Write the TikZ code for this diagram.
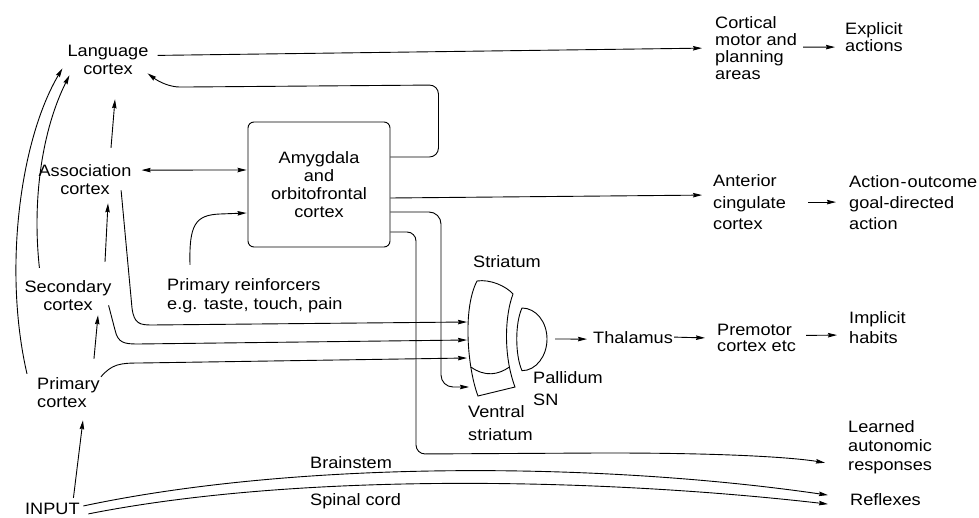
\documentclass[tikz,border=0pt]{standalone}
\usepackage{fontspec}
\setmainfont{Liberation Sans}[FakeStretch=1.1]
\usetikzlibrary{arrows.meta,calc}
\newcommand{\fs}[1]{\fontsize{16.5}{#1}\selectfont}
\tikzset{
  lbl/.style={inner sep=0pt, font=\fs{18}, align=left, anchor=base west},
  lblc/.style={lbl, align=center, anchor=base},
  arr/.style={-{Stealth[length=9pt,width=4.5pt,inset=1pt]}, line width=0.9pt},
  arrb/.style={{Stealth[length=9pt,width=4.5pt,inset=1pt]}-{Stealth[length=9pt,width=4.5pt,inset=1pt]}, line width=0.9pt},
  shapeline/.style={line width=0.9pt},
}
\begin{document}
\begin{tikzpicture}[x=1pt,y=-1pt]
\fill[white] (0,0) rectangle (979,518);
\useasboundingbox (0,0) rectangle (979,518);

% text nodes (anchor = baseline of the last line)
\node[lblc] (lang) at (108,75) {Language\\cortex};
\node[lblc] (assoc) at (85,195) {Association\\cortex};
\node[lblc] (sec) at (68,311) {Secondary\\cortex};
\node[lbl] (prim) at (37,407) {Primary\\cortex};
\node[lbl] (input) at (25,514.5) {INPUT};
\node[draw, rounded corners=6pt, line width=0.9pt, minimum width=142pt, minimum height=125pt,
      inner sep=0pt, font=\fs{18}, align=center] (box) at (319,184.5) {Amygdala\\and\\orbitofrontal\\cortex};
\node[lbl, font=\fs{19}] (reinf) at (167,309) {Primary reinforcers\\e.g. taste, touch, pain};
\node[lbl, font=\fs{17.3}] (cort) at (715,80) {Cortical\\motor and\\planning\\areas};
\node[lbl, font=\fs{17}] (expl) at (845,52) {Explicit\\actions};
\node[lbl, font=\fs{21.5}] (ant) at (713,230) {Anterior\\cingulate\\cortex};
\node[lbl, font=\fs{21}] (aout) at (849,230) {Action\kern1pt-\kern1pt outcome\\goal-directed\\action};
\node[lbl] (strl) at (473,268) {Striatum};
\node[lbl] (thal) at (593,343) {Thalamus};
\node[lbl, font=\fs{17}] (prem) at (717,352) {Premotor\\cortex etc};
\node[lbl, font=\fs{20}] (impl) at (849,343) {Implicit\\habits};
\node[lbl, font=\fs{22}] (pall) at (533,405) {Pallidum\\SN};
\node[lbl, font=\fs{23}] (vent) at (468,440) {Ventral\\striatum};
\node[lbl, font=\fs{19}] (learn) at (848,470) {Learned\\autonomic\\responses};
\node[lbl] (refl) at (850,505) {Reflexes};
\node[lbl] (brain) at (310,468) {Brainstem};
\node[lbl] (spin) at (310,505) {Spinal cord};

% striatum and pallidum shapes
\draw[shapeline] (477,281) .. controls (490,279) and (506,286) .. (513,294)
   .. controls (505,315) and (503,355) .. (515,387) -- (478,396)
   .. controls (468,370) and (462,310) .. (477,281) -- cycle;
\draw[shapeline] (470.8,367) .. controls (485,377) and (498,375) .. (509.5,367);
\draw[shapeline] (522,308) .. controls (536,308) and (547,322) .. (547,339)
   .. controls (547,356) and (536,370.7) .. (522,370.7)
   .. controls (515,355) and (515,323) .. (522,308) -- cycle;
\coordinate (s1) at (467,322);
\coordinate (s2) at (467,340);
\coordinate (s3) at (467,358);
\coordinate (s4) at (469,387);
\coordinate (palr) at (547,339);

% connectors
\draw[arr] ([shift={(9,-5)}]lang.east) -- ([shift={(-13,0)}]cort.west);
\draw[arr] ([shift={(6,-1)}]cort.east) -- ([shift={(-10,9.5)}]expl.west);
\draw[arr, rounded corners=9pt] ([shift={(0,-27.5)}]box.east) -- ++(48,0) -- ++(0,-72) -- ++(-250,2)
   .. controls +(-18,0) and +(12,9) .. ([shift={(-1,-2)}]lang.south east);
\draw[arrb] ([shift={(10,-10)}]assoc.east) -- ([shift={(-1,-14.5)}]box.west);
\draw[arr] ([shift={(26,-17)}]assoc.north) -- ([shift={(7,24)}]lang.south);
\draw[arr] ([shift={(37,-19)}]sec.north) -- ([shift={(23,8)}]assoc.south);
\draw[arr] ([shift={(25.5,-18)}]prim.north) -- ([shift={(30,4)}]sec.south);
\draw[arr] ([shift={(21,-5)}]input.north) -- ([shift={(14.5,13)}]prim.south);
\draw[arr] ([shift={(-10,-3)}]prim.north west) .. controls (3,270) and (20,140) .. ([shift={(-5,-7)}]lang.south west);
\draw[arr] ([shift={(15,-13)}]sec.north west) .. controls (32,200) and (42,130) .. ([shift={(2,0)}]lang.south west);
\draw[arr] ([shift={(-10.5,-5)}]assoc.south east) -- (132,308) .. controls (134,324) and (140,325) .. (152,325) -- (s1);
\draw[arr] ([shift={(-3,-6)}]sec.south east) -- (115,330) .. controls (118,343) and (124,344) .. (138,344) -- (s2);
\draw[arr] ([shift={(1,0)}]prim.north east) .. controls (112,364) and (120,363) .. (140,363) -- (s3);
\draw[arr] ([shift={(23,-13)}]reinf.north west) .. controls (189,225) and (195,215) .. (220,214) -- ([shift={(-1,28.5)}]box.west);
\draw[arr] ([shift={(0,13.5)}]box.east) -- ([shift={(-11,-7.5)}]ant.west);
\draw[arr] ([shift={(22,-0.5)}]ant.east) -- ([shift={(-13,-1)}]aout.west);
\draw[arr, rounded corners=12pt] ([shift={(0,27.5)}]box.east) -| (441,387) -- (s4);
\draw[arr, rounded corners=9pt] ([shift={(0,47.5)}]box.east) -| (416,454) -- (600,453)
   .. controls (720,453) and (790,457) .. ([shift={(-23,16)}]learn.west);
\draw[arr] ([shift={(3.5,3)}]input.north east) .. controls (300,460) and (600,462) .. ([shift={(-22,-4)}]refl.west);
\draw[arr] ([shift={(8.5,5)}]input.east) .. controls (300,472) and (600,478) .. ([shift={(-22,5)}]refl.west);
\draw[arr] ([shift={(8,0)}]palr) -- ([shift={(-6,2)}]thal.west);
\draw[arr] ([shift={(1,0)}]thal.east) -- ([shift={(-12,0)}]prem.west);
\draw[arr] ([shift={(10,-2.5)}]prem.east) -- ([shift={(-12,8)}]impl.west);
\end{tikzpicture}
\end{document}
